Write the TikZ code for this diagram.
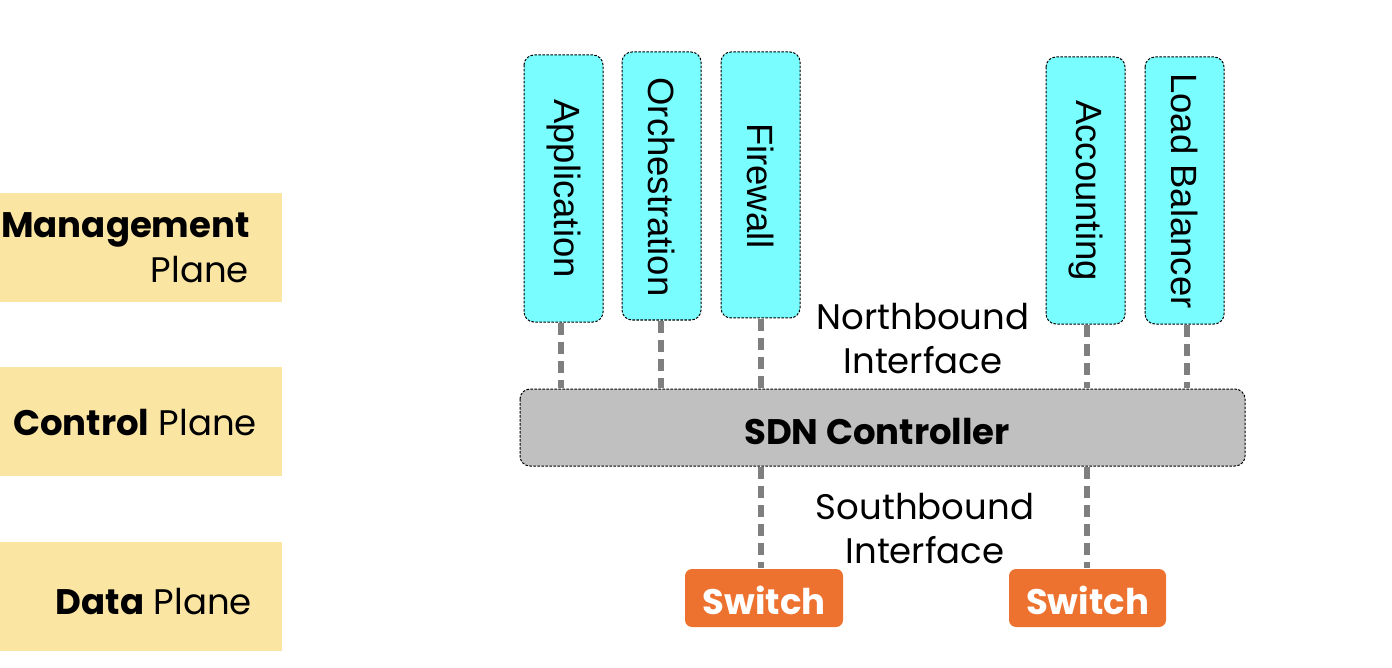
\documentclass[tikz,border=0pt]{standalone}
\usepackage{fontspec}
\setmainfont{Poppins}
\newfontfamily\arialf{Liberation Sans}
\definecolor{planec}{HTML}{FAE5A3}
\definecolor{appc}{HTML}{7AFDFF}
\definecolor{ctrlc}{HTML}{C0C0C0}
\definecolor{swc}{HTML}{ED7230}
\definecolor{linkc}{HTML}{7F7F7F}
\begin{document}
\begin{tikzpicture}[x=1pt,y=-1pt,
  planebox/.style={fill=planec,draw=none},
  appbox/.style={draw=black,fill=appc,line width=1pt,dash pattern=on 2.5pt off 1.5pt,rounded corners=10pt},
  apptext/.style={font=\arialf\fontsize{36.5}{40}\selectfont,rotate=-90,anchor=center},
  ctrlbox/.style={draw=black,fill=ctrlc,line width=1pt,dash pattern=on 2.5pt off 1.5pt,rounded corners=10pt},
  swbox/.style={fill=swc,draw=none,rounded corners=7pt},
  link/.style={draw=linkc,line width=6.5pt,dash pattern=on 12pt off 7pt},
  lbl/.style={font=\fontsize{35.5}{40}\selectfont,inner sep=0pt},
  blbl/.style={font=\bfseries\fontsize{35.5}{40}\selectfont,inner sep=0pt},
]
\useasboundingbox (0,0) rectangle (1392,668);
% plane boxes
\fill[planebox] (0,193) rectangle (282,302);
\fill[planebox] (0,367) rectangle (282,476);
\fill[planebox] (0,542) rectangle (282,651);
\node[lbl,anchor=base east] (mg) at (250,238) {\textbf{Management}};
\node[lbl,anchor=base east] (mp) at (249,283) {Plane};
\node[lbl,anchor=base east] (cp) at (257,435) {\textbf{Control} Plane};
\node[lbl,anchor=base east] (dp) at (252,614) {\textbf{Data} Plane};
% app boxes
\draw[appbox] (524,55) rectangle (603,322);
\draw[appbox] (622,52) rectangle (701,320);
\draw[appbox] (721,52) rectangle (800,318);
\draw[appbox] (1046,57) rectangle (1125,324);
\draw[appbox] (1145,57) rectangle (1224,324);
\node[apptext] (app) at (563.5,188.5) {Application};
\node[apptext] (orc) at (661.5,187) {Orchestration};
\node[apptext] (fw) at (760.5,186) {Firewall};
\node[apptext] (acc) at (1085.5,190.5) {Accounting};
\node[apptext] (lb) at (1184.5,191) {Load Balancer};
% controller
\draw[ctrlbox] (520,389) rectangle (1245,466);
\node[blbl] (sdn) at (877,432) {SDN Controller};
% switches
\fill[swbox] (685,569) rectangle (843,627);
\fill[swbox] (1009,569) rectangle (1166,627);
\node[blbl,text=white] (sw1) at (764,600) {Switch};
\node[blbl,text=white] (sw2) at (1087.5,600) {Switch};
% coordinates for links
\coordinate (a1) at (561,323); \coordinate (a2) at (561,388);
\coordinate (o1) at (661,321); \coordinate (o2) at (661,388);
\coordinate (f1) at (761,319); \coordinate (f2) at (761,388);
\coordinate (c1) at (1087,325); \coordinate (c2) at (1087,388);
\coordinate (l1) at (1187,325); \coordinate (l2) at (1187,388);
\coordinate (s1) at (761,467); \coordinate (s2) at (761,568);
\coordinate (t1) at (1087,467); \coordinate (t2) at (1087,568);
\draw[link] (a1) -- (a2);
\draw[link] (o1) -- (o2);
\draw[link] (f1) -- (f2);
\draw[link] (c1) -- (c2);
\draw[link] (l1) -- (l2);
\draw[link] (s1) -- (s2);
\draw[link] (t1) -- (t2);
% interface labels
\node[lbl,anchor=base] (nb1) at (923,329) {Northbound};
\node[lbl,anchor=base] (nb2) at (923,373) {Interface};
\node[lbl,anchor=base] (sb1) at (925,519) {Southbound};
\node[lbl,anchor=base] (sb2) at (925,563) {Interface};
\end{tikzpicture}
\end{document}
